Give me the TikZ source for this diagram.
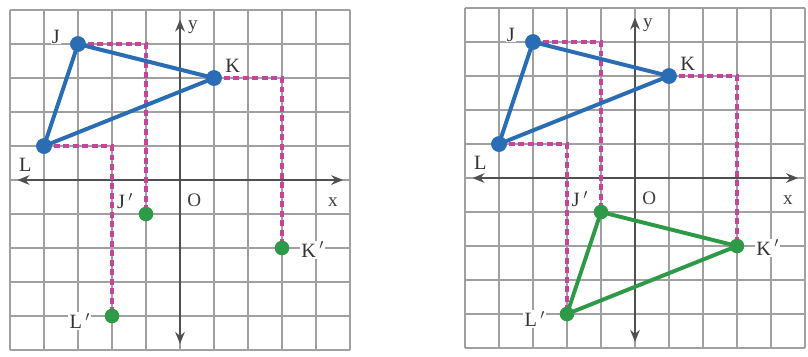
\documentclass[tikz,border=0pt]{standalone}
\usepackage{fontspec}
\setmainfont{Liberation Serif}
\usetikzlibrary{arrows.meta}
\definecolor{tblue}{HTML}{2A6DB5}
\definecolor{tgreen}{HTML}{2E9A48}
\definecolor{tmag}{HTML}{C4469A}
\definecolor{tgrid}{HTML}{A0A0A0}
\definecolor{taxis}{HTML}{505050}
\tikzset{
  gridline/.style={draw=tgrid, line width=1.6pt},
  axisline/.style={draw=taxis, line width=1.8pt, {Stealth[length=10pt,width=8pt]}-{Stealth[length=10pt,width=8pt]}},
  dashline/.style={draw=tmag, line width=3pt, dash pattern=on 5pt off 3pt},
  bluetri/.style={draw=tblue, line width=3.3pt, line join=round},
  greentri/.style={draw=tgreen, line width=3.3pt, line join=round},
  bdot/.style={circle, fill=tblue, inner sep=0pt, minimum size=13pt},
  gdot/.style={circle, fill=tgreen, inner sep=0pt, minimum size=12pt},
  lbl/.style={font=\fontsize{17}{19}\selectfont, text=black!80, fill=white, inner sep=1pt},
  axlbl/.style={font=\fontsize{16}{18}\selectfont, text=black!75, inner sep=1pt},
}
\begin{document}
\begin{tikzpicture}[x=1cm,y=1cm]
\useasboundingbox[fill=white] (0,0) rectangle (23.765,10.471);
% ---------- left grid ----------
\begin{scope}[shift={(5.294,5.176)}]
  \draw[gridline] (-5,-5) grid (5,5);
  \coordinate (axl1) at (-4.78,0);
  \coordinate (axr1) at (4.8,0);
  \coordinate (axb1) at (0,-4.82);
  \coordinate (axt1) at (0,4.72);
  \draw[axisline] (axl1) -- (axr1);
  \draw[axisline] (axb1) -- (axt1);
  \node[axlbl] (ylab1) at (0.38,4.5) {y};
  \node[axlbl] (xlab1) at (4.5,-0.65) {x};
  \node[axlbl] (olab1) at (0.42,-0.6) {O};
  \node[bdot] (J1) at (-3,4) {};
  \node[bdot] (K1) at (1,3) {};
  \node[bdot] (L1) at (-4,1) {};
  \node[gdot] (Jp1) at (-1,-1) {};
  \node[gdot] (Kp1) at (3,-2) {};
  \node[gdot] (Lp1) at (-2,-4) {};
  \draw[dashline] (J1.center) -| (Jp1.center);
  \draw[dashline] (K1.center) -| (Kp1.center);
  \draw[dashline] (L1.center) -| (Lp1.center);
  \draw[bluetri] (J1.center) -- (K1.center) -- (L1.center) -- cycle;
  \node[bdot] at (J1) {};
  \node[bdot] at (K1) {};
  \node[bdot] at (L1) {};
  \node[gdot] at (Jp1) {};
  \node[gdot] at (Kp1) {};
  \node[gdot] at (Lp1) {};
  \node[lbl] (Jl1) at (-3.65,4.22) {J};
  \node[lbl] (Kl1) at (1.55,3.35) {K};
  \node[lbl] (Ll1) at (-4.55,0.45) {L};
  \node[lbl] (Jpl1) at (-1.62,-0.62) {J\,$'$};
  \node[lbl] (Kpl1) at (3.9,-2.05) {K\,$'$};
  \node[lbl] (Lpl1) at (-2.95,-4.15) {L\,$'$};
\end{scope}
% ---------- right grid ----------
\begin{scope}[shift={(18.676,5.235)}]
  \draw[gridline] (-5,-5) grid (5,5);
  \coordinate (axl2) at (-4.78,0);
  \coordinate (axr2) at (4.8,0);
  \coordinate (axb2) at (0,-4.82);
  \coordinate (axt2) at (0,4.72);
  \draw[axisline] (axl2) -- (axr2);
  \draw[axisline] (axb2) -- (axt2);
  \node[axlbl] (ylab2) at (0.38,4.5) {y};
  \node[axlbl] (xlab2) at (4.5,-0.65) {x};
  \node[axlbl] (olab2) at (0.42,-0.6) {O};
  \node[bdot] (J2) at (-3,4) {};
  \node[bdot] (K2) at (1,3) {};
  \node[bdot] (L2) at (-4,1) {};
  \node[gdot] (Jp2) at (-1,-1) {};
  \node[gdot] (Kp2) at (3,-2) {};
  \node[gdot] (Lp2) at (-2,-4) {};
  \draw[dashline] (J2.center) -| (Jp2.center);
  \draw[dashline] (K2.center) -| (Kp2.center);
  \draw[dashline] (L2.center) -| (Lp2.center);
  \draw[bluetri] (J2.center) -- (K2.center) -- (L2.center) -- cycle;
  \draw[greentri] (Jp2.center) -- (Kp2.center) -- (Lp2.center) -- cycle;
  \node[bdot] at (J2) {};
  \node[bdot] at (K2) {};
  \node[bdot] at (L2) {};
  \node[gdot] at (Jp2) {};
  \node[gdot] at (Kp2) {};
  \node[gdot] at (Lp2) {};
  \node[lbl] (Jl2) at (-3.65,4.22) {J};
  \node[lbl] (Kl2) at (1.55,3.35) {K};
  \node[lbl] (Ll2) at (-4.55,0.45) {L};
  \node[lbl] (Jpl2) at (-1.62,-0.62) {J\,$'$};
  \node[lbl] (Kpl2) at (3.9,-2.05) {K\,$'$};
  \node[lbl] (Lpl2) at (-2.95,-4.15) {L\,$'$};
\end{scope}
\end{tikzpicture}
\end{document}
